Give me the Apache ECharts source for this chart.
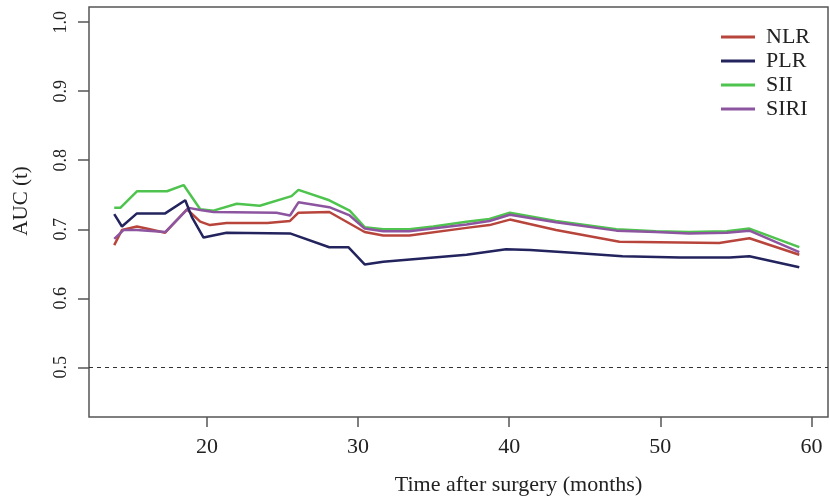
<!DOCTYPE html>
<html><head><meta charset="utf-8">
<script src="https://cdn.jsdelivr.net/npm/echarts@6/dist/echarts.min.js"></script>
<style>html,body{margin:0;padding:0;background:#fff}#c{width:830px;height:502px}</style>
</head><body><div id="c"></div>
<script>
var seriesNames = ['NLR','PLR','SII','SIRI'];
var nlrMonths = [13.87,14.38,15.37,16.0,17.24,18.68,19.56,20.2,21.3,24.0,25.5,26.06,28.1,30.44,31.67,33.4,37.18,38.7,40.05,43.1,47.3,53.9,55.9,59.2];
var nlrAUC    = [0.677,0.699,0.704,0.701,0.695,0.729,0.711,0.706,0.709,0.709,0.712,0.724,0.725,0.696,0.691,0.691,0.702,0.706,0.714,0.699,0.682,0.680,0.687,0.663];
var plrMonths = [13.87,14.38,15.37,17.24,18.57,19.0,19.78,21.3,25.5,28.1,29.36,30.44,31.67,37.18,39.8,41.4,44.2,47.5,51.3,54.6,55.9,59.2];
var plrAUC    = [0.722,0.704,0.723,0.723,0.742,0.718,0.688,0.695,0.694,0.674,0.674,0.649,0.653,0.663,0.671,0.670,0.666,0.661,0.659,0.659,0.661,0.645];
var siiMonths = [13.87,14.27,15.37,17.36,18.46,19.56,20.44,21.98,23.5,25.6,26.06,28.1,29.45,30.44,31.67,33.4,34.98,37.18,38.7,40.05,43.1,47.1,49.7,51.9,54.4,55.9,59.2];
var siiAUC    = [0.731,0.731,0.755,0.755,0.764,0.729,0.727,0.737,0.734,0.748,0.757,0.742,0.727,0.703,0.700,0.700,0.704,0.711,0.715,0.724,0.712,0.700,0.697,0.696,0.697,0.701,0.674];
var siriMonths = [13.87,14.5,15.37,17.24,18.8,19.56,20.44,24.6,25.5,26.06,28.1,29.45,30.44,31.67,33.4,37.18,38.7,40.05,43.1,47.1,49.7,51.9,54.4,55.9,59.2];
var siriAUC    = [0.686,0.699,0.699,0.696,0.731,0.728,0.725,0.724,0.720,0.739,0.732,0.720,0.701,0.697,0.697,0.707,0.712,0.721,0.710,0.698,0.696,0.694,0.695,0.698,0.667];
var refLineValue = 0.5;
var yTicks = [0.5,0.6,0.7,0.8,0.9,1.0];
var xTicks = [20,30,40,50,60];

var colors = ['#b8453c','#23235e','#4ec44e','#8d55a0'];
function pairs(xs, ys){ return xs.map(function(x,i){ return [x, ys[i]]; }); }
var allData = [pairs(nlrMonths,nlrAUC), pairs(plrMonths,plrAUC), pairs(siiMonths,siiAUC), pairs(siriMonths,siriAUC)];
var font = 'Liberation Serif';

var series = seriesNames.map(function(n,i){
  return {name:n, type:'line', data:allData[i], showSymbol:false, symbol:'none',
    lineStyle:{color:colors[i], width:2.5}, itemStyle:{color:colors[i]}, z: 3 + (i===1?1:0)};
});
series[0].markLine = {silent:true, symbol:'none', label:{show:false},
  lineStyle:{type:[4,4], color:'#333', width:1.2},
  data:[{yAxis:refLineValue}]};

var chart = echarts.init(document.getElementById('c'));
chart.setOption({
  animation:false,
  color:colors,
  grid:{left:89,right:2,top:7,bottom:85,show:true,borderColor:'#555',borderWidth:1.5,backgroundColor:'transparent'},
  legend:{orient:'vertical',left:716,top:21,icon:'rect',itemWidth:34,itemHeight:3,itemGap:2,
    data:seriesNames,
    textStyle:{fontFamily:font,fontSize:22,color:'#222',lineHeight:22,padding:[0,0,0,6]}},
  xAxis:{type:'value',min:12.2,max:61.1,
    axisLine:{show:false},splitLine:{show:false},
    axisTick:{show:true,length:10,lineStyle:{color:'#555',width:1.5},customValues:xTicks},
    axisLabel:{fontFamily:font,fontSize:22,color:'#222',margin:19,customValues:xTicks},
    name:'Time after surgery (months)',nameLocation:'middle',nameGap:57,
    nameTextStyle:{fontFamily:font,fontSize:22,color:'#222',padding:[0,0,0,120]}},
  yAxis:{type:'value',min:0.428,max:1.022,
    axisLine:{show:false},splitLine:{show:false},
    axisTick:{show:true,length:11,lineStyle:{color:'#555',width:1.5},customValues:yTicks},
    axisLabel:{fontFamily:font,fontSize:18,color:'#222',margin:19,rotate:90,customValues:yTicks,
      formatter:function(v){return v.toFixed(1);}},
    name:'AUC (t)',nameLocation:'middle',nameGap:57,nameRotate:90,
    nameTextStyle:{fontFamily:font,fontSize:21,color:'#222',padding:[0,0,0,22]}},
  series:series
});
</script></body></html>
